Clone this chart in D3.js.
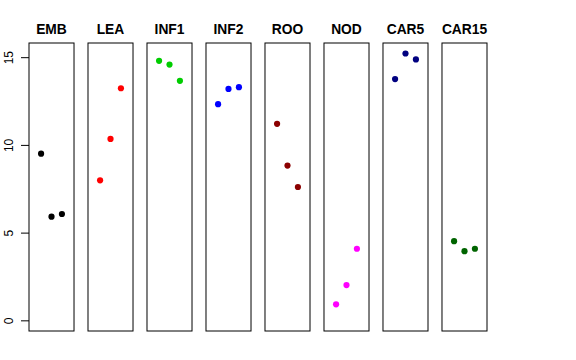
<!DOCTYPE html>
<html>
<head>
<meta charset="utf-8">
<script src="https://cdn.jsdelivr.net/npm/d3@7"></script>
<style>
  html, body { margin: 0; padding: 0; background: #fff; }
  svg { display: block; }
</style>
</head>
<body>
<svg id="chart" width="576" height="360"></svg>
<script>
const categories = ["EMB", "LEA", "INF1", "INF2", "ROO", "NOD", "CAR5", "CAR15"];
const colors = ["#000000", "#FF0000", "#00CD00", "#0000FF", "#8B0000", "#FF00FF", "#000080", "#006400"];
const EMB = [9.50, 5.91, 6.06];
const LEA = [7.98, 10.34, 13.23];
const INF1 = [14.79, 14.58, 13.65];
const INF2 = [12.32, 13.19, 13.29];
const ROO = [11.20, 8.82, 7.60];
const NOD = [0.91, 2.01, 4.08];
const CAR5 = [13.75, 15.21, 14.87];
const CAR15 = [4.51, 3.94, 4.08];
const seriesValues = [EMB, LEA, INF1, INF2, ROO, NOD, CAR5, CAR15];
const yTicks = [0, 5, 10, 15];

const svg = d3.select("#chart");
const panelTop = 43, panelBottom = 331;

const xBand = d3.scaleBand().domain(categories).range([29, 487]).paddingInner(0.237).paddingOuter(0);
const y = d3.scaleLinear().domain([0 - 0.608, 15.2 + 0.608]).range([panelBottom, panelTop]);
const xIn = d3.scaleLinear().domain([-0.16, 4.16]).range([0, xBand.bandwidth()]);

categories.forEach((cat, i) => {
  const g = svg.append("g").attr("transform", `translate(${xBand(cat)},0)`);
  g.append("rect")
    .attr("x", 0).attr("y", panelTop)
    .attr("width", xBand.bandwidth()).attr("height", panelBottom - panelTop)
    .attr("fill", "none").attr("stroke", "#000").attr("stroke-width", 1);
  g.append("text")
    .attr("x", xBand.bandwidth() / 2).attr("y", 34)
    .attr("text-anchor", "middle")
    .attr("font-family", "Liberation Sans, Arial, sans-serif")
    .attr("font-weight", "bold").attr("font-size", 13.8)
    .text(cat);
  g.selectAll("circle").data(seriesValues[i]).join("circle")
    .attr("cx", (d, j) => xIn(j + 1))
    .attr("cy", d => y(d))
    .attr("r", 3.1)
    .attr("fill", colors[i]);
});

const axis = d3.axisLeft(y).tickValues(yTicks).tickSize(8).tickPadding(0).tickFormat(d3.format("d"));
const ag = svg.append("g").attr("transform", `translate(${xBand(categories[0])},0)`).call(axis);
ag.select(".domain").remove();
ag.selectAll(".tick line").attr("stroke", "#000");
ag.selectAll(".tick text")
  .attr("font-family", "Liberation Sans, Arial, sans-serif")
  .attr("font-size", 12).attr("fill", "#000")
  .attr("text-anchor", "middle")
  .attr("x", null).attr("dy", null)
  .attr("transform", "translate(-16,0) rotate(-90)");
</script>
</body>
</html>
